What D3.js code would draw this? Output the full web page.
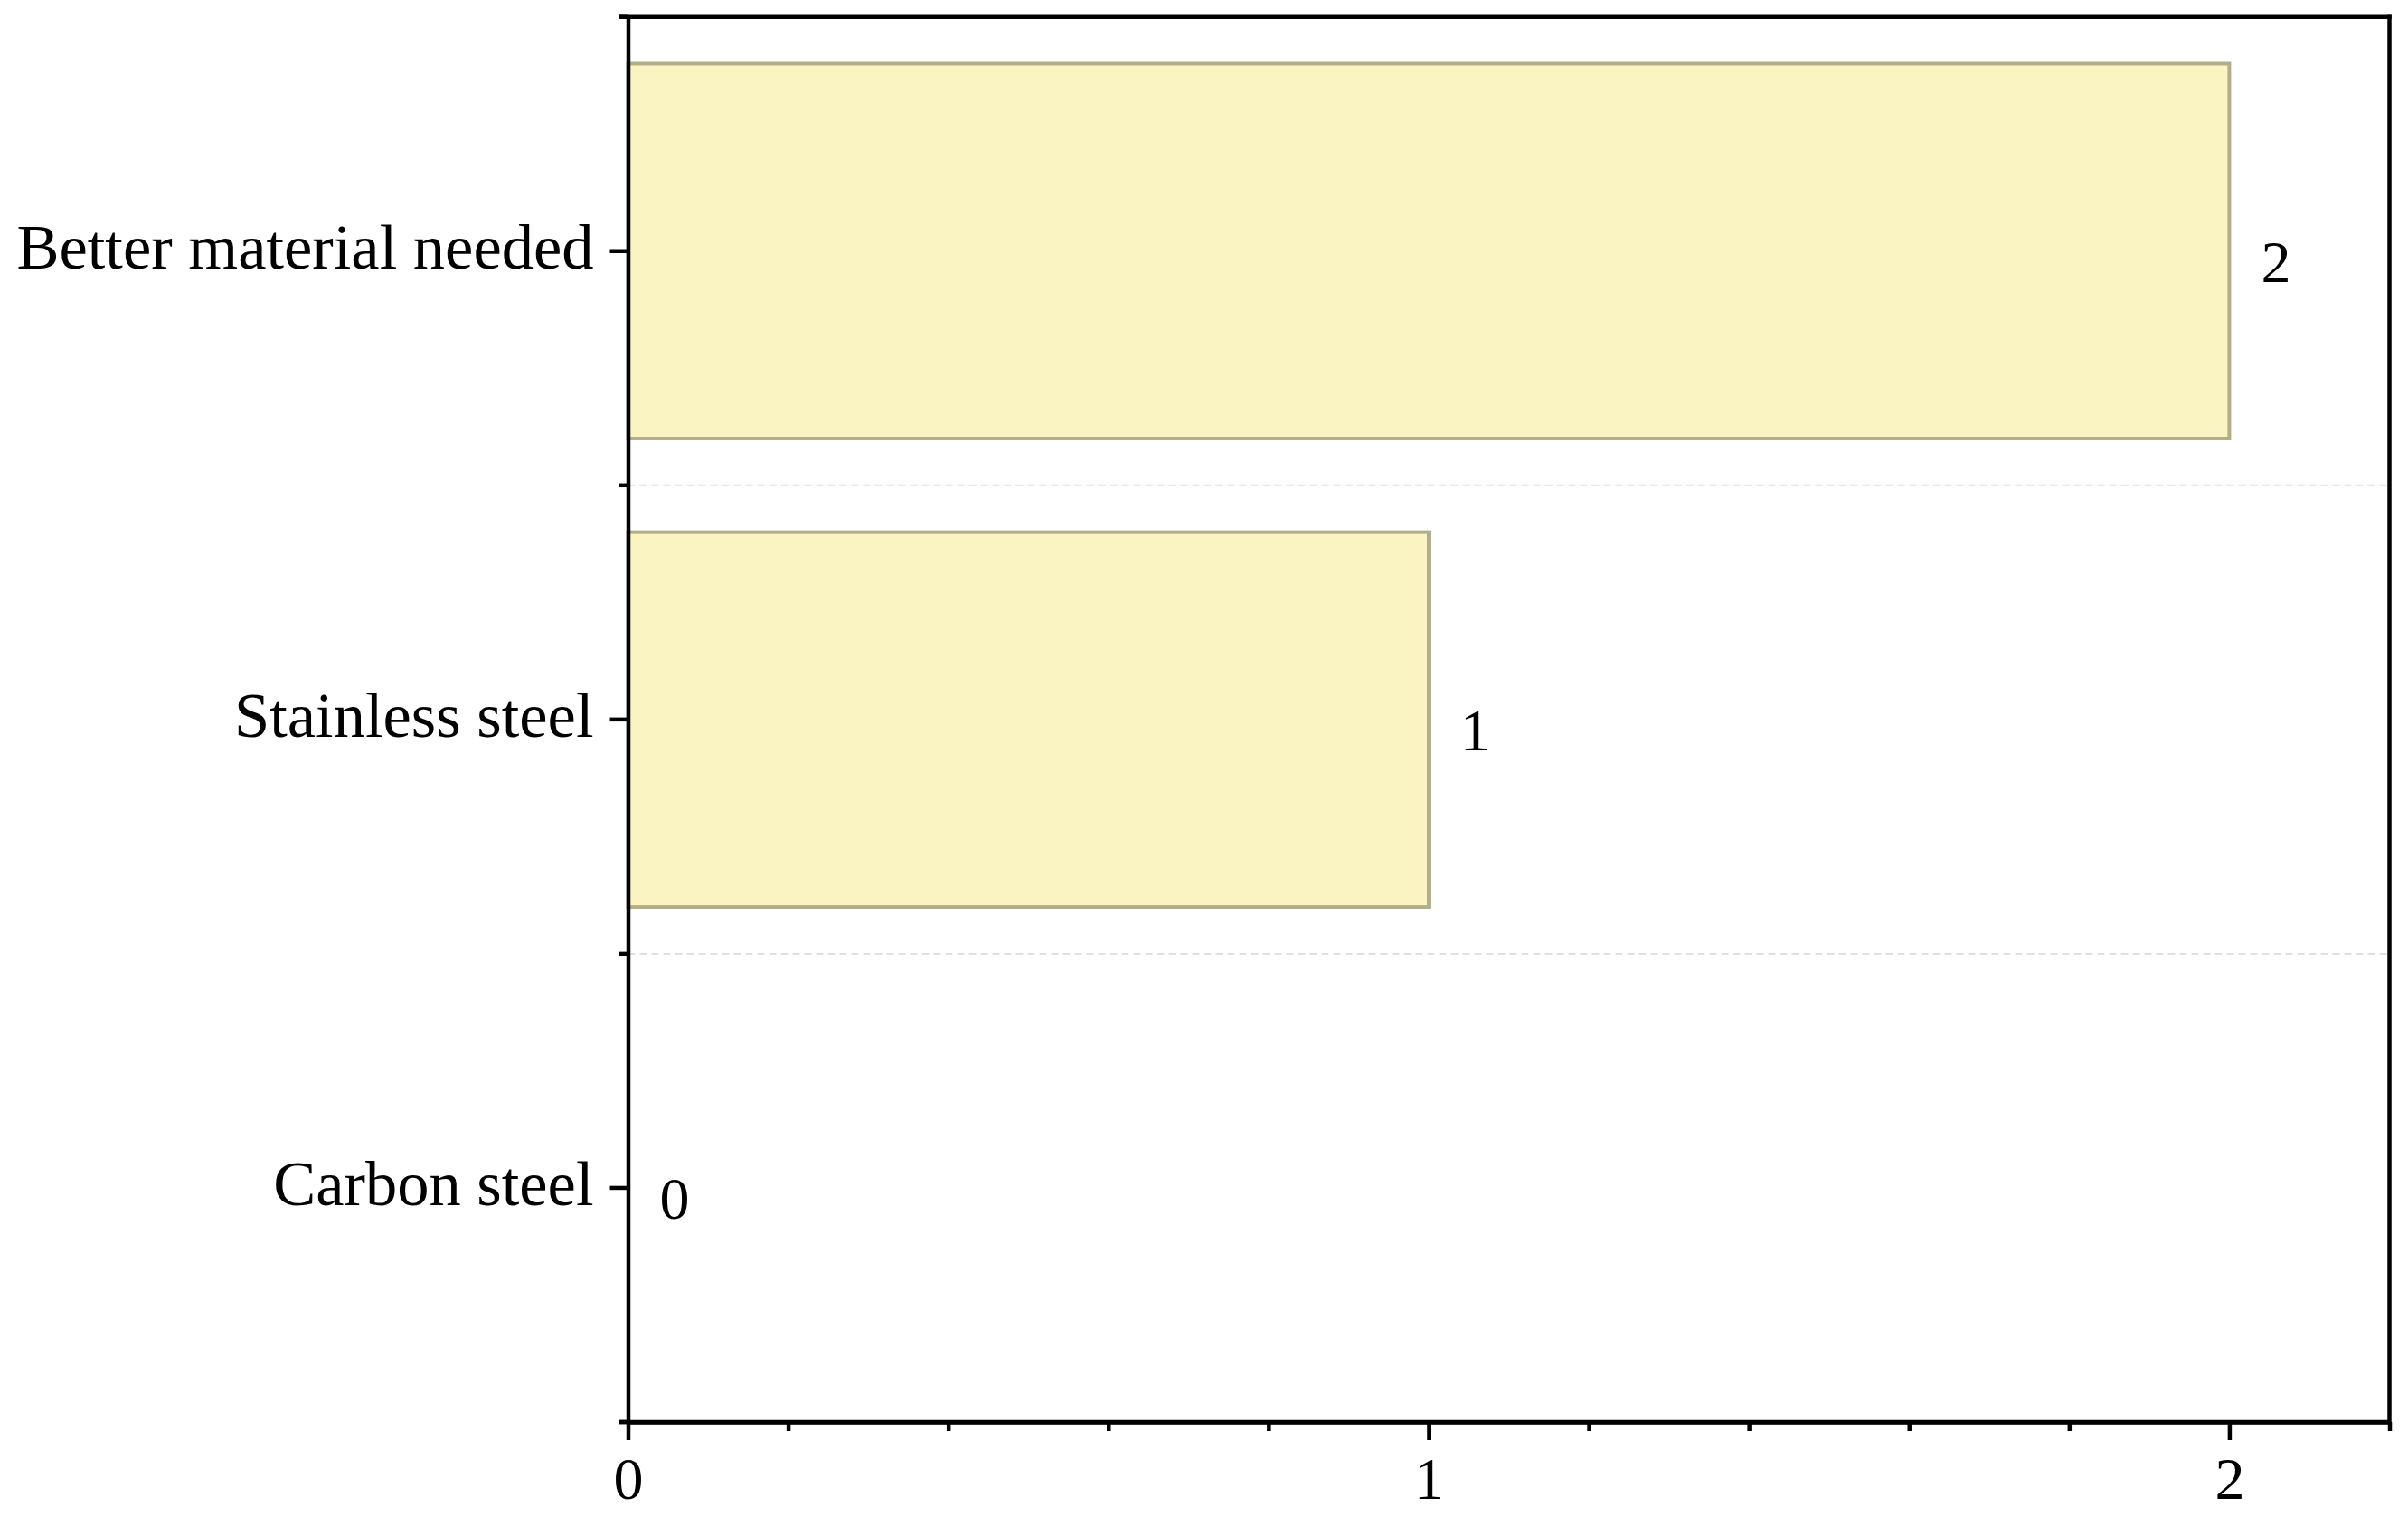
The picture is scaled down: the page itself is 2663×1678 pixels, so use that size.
<!DOCTYPE html>
<html>
<head>
<meta charset="utf-8">
<script src="https://cdn.jsdelivr.net/npm/d3@7"></script>
<style>
  html, body { margin: 0; padding: 0; background: #fff; }
  svg text { font-family: "Liberation Serif", "Times New Roman", serif; fill: #000; }
</style>
</head>
<body>
<div id="app"></div>
<script>
// data
const categories = ['Better material needed', 'Stainless steel', 'Carbon steel']
const values = [2, 1, 0]
const xMajorTicks = [0, 1, 2]
const xMinorTicks = [0.2, 0.4, 0.6, 0.8, 1.2, 1.4, 1.6, 1.8, 2.2]

const W = 2663, H = 1678
const M = { left: 694.5, right: 20.5, top: 18.7, bottom: 105 }

const svg = d3.select('#app').append('svg')
    .attr('width', W)
    .attr('height', H)

const x = d3.scaleLinear()
    .domain([0, 2.2])
    .range([M.left, W - M.right])

const y = d3.scaleBand()
    .domain(categories)
    .range([M.top, H - M.bottom])
    .paddingInner(0.2)
    .paddingOuter(0.1)

const step = y.step()
// band edges, used for the grid and the small ticks on the left
const edges = d3.range(categories.length + 1).map(i => M.top + i * step)

// dashed separators between categories
svg.append('g').selectAll('line')
    .data(edges.slice(1, -1))
    .join('line')
    .attr('x1', M.left).attr('x2', W - M.right)
    .attr('y1', d => d).attr('y2', d => d)
    .attr('stroke', '#e0e0e0')
    .attr('stroke-width', 2)
    .attr('stroke-dasharray', '8,5')

// bars
svg.append('g').selectAll('rect')
    .data(values.map((v, i) => ({ cat: categories[i], v })).filter(d => d.v > 0))
    .join('rect')
    .attr('x', x(0))
    .attr('y', d => y(d.cat))
    .attr('width', d => x(d.v) - x(0))
    .attr('height', y.bandwidth())
    .attr('fill', '#f9f4c1')
    .attr('stroke', '#b2ae87')
    .attr('stroke-width', 4)

// value labels right of each bar
svg.append('g').selectAll('text')
    .data(values.map((v, i) => ({ cat: categories[i], v })))
    .join('text')
    .attr('x', d => x(d.v) + 35)
    .attr('y', d => y(d.cat) + y.bandwidth() / 2 + 34)
    .style('font-size', '66px')
    .text(d => d.v)

const AXIS_W = 4.5

// x axis: minor ticks then major ticks with labels
svg.append('g')
    .attr('transform', `translate(0,${H - M.bottom})`)
    .call(d3.axisBottom(x).tickValues(xMinorTicks).tickSize(10).tickSizeOuter(0).tickFormat(''))
const xMajor = svg.append('g')
    .attr('transform', `translate(0,${H - M.bottom})`)
    .call(d3.axisBottom(x).tickValues(xMajorTicks).tickSize(20).tickSizeOuter(0).tickPadding(18).tickFormat(d3.format('d')))
xMajor.selectAll('text').style('font-size', '66px').attr('dy', '0.71em')

// y axis: major ticks at category centres, minor ticks on band edges
const yAxis = svg.append('g')
    .attr('transform', `translate(${M.left},0)`)
    .call(d3.axisLeft(y).tickSize(20).tickSizeOuter(0).tickPadding(18))
yAxis.selectAll('text')
    .style('font-size', '70.5px')
    .attr('dy', null)
    .attr('y', 19)

svg.append('g').selectAll('line')
    .data(edges)
    .join('line')
    .attr('x1', M.left - 10).attr('x2', M.left)
    .attr('y1', d => d).attr('y2', d => d)
    .attr('stroke', '#000')
    .attr('stroke-width', AXIS_W)

// top and right frame lines
svg.append('line')
    .attr('x1', M.left - 10).attr('x2', W - M.right + AXIS_W / 2)
    .attr('y1', M.top).attr('y2', M.top)
    .attr('stroke', '#000').attr('stroke-width', AXIS_W)
svg.append('line')
    .attr('x1', W - M.right).attr('x2', W - M.right)
    .attr('y1', M.top - AXIS_W / 2).attr('y2', H - M.bottom)
    .attr('stroke', '#000').attr('stroke-width', AXIS_W)

// make every axis line black and thick
svg.selectAll('.domain, .tick line')
    .attr('stroke', '#000')
    .attr('stroke-width', AXIS_W)
xMajor.select('.domain').attr('d', `M${M.left - 10},0H${W - M.right}`)
</script>
</body>
</html>
